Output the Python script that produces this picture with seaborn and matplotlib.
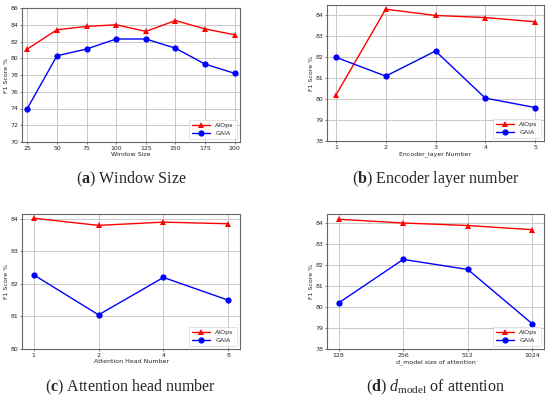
import numpy as np
import pandas as pd
import matplotlib
matplotlib.use("Agg")
import matplotlib.pyplot as plt
import seaborn as sns

# ---- data ----
window_size = ["25", "50", "75", "100", "125", "150", "175", "200"]
win_aiops = [81.1, 83.4, 83.8, 84.0, 83.2, 84.5, 83.5, 82.8]
win_gaia = [74.0, 80.3, 81.1, 82.3, 82.3, 81.2, 79.3, 78.2]

enc_layers = ["1", "2", "3", "4", "5"]
enc_aiops = [80.2, 84.3, 84.0, 83.9, 83.7]
enc_gaia = [82.0, 81.1, 82.3, 80.05, 79.6]

att_heads = ["1", "2", "4", "8"]
head_aiops = [84.02, 83.8, 83.9, 83.85]
head_gaia = [82.28, 81.05, 82.2, 81.5]

d_model = ["128", "256", "512", "1024"]
dm_aiops = [84.2, 84.02, 83.9, 83.7]
dm_gaia = [80.2, 82.28, 81.8, 79.2]

sns.set_style("ticks")
plt.rcParams["font.family"] = ["DejaVu Sans"]
# serif captions with a bold panel letter
plt.rcParams["mathtext.fontset"] = "custom"
plt.rcParams["mathtext.rm"] = "Liberation Serif"
plt.rcParams["mathtext.it"] = "Liberation Serif:italic"
plt.rcParams["mathtext.bf"] = "Liberation Serif:bold"

fig = plt.figure(figsize=(5.5, 3.99), dpi=100)

# axes positions in figure fractions (left, bottom, width, height)
W, H = 550, 399
def box(x0, y0, x1, y1):
    return [x0 / W, 1 - y1 / H, (x1 - x0) / W, (y1 - y0) / H]

panels = [
    (box(22, 8, 240, 142), window_size, win_aiops, win_gaia, "Window Size",
     (70, 86), np.arange(70, 87, 2), r"($\mathbf{a}$) Window Size", 179),
    (box(327, 5, 544, 141), enc_layers, enc_aiops, enc_gaia, "Encoder_layer Number",
     (78, 84.5), np.arange(78, 85, 1), r"($\mathbf{b}$) Encoder layer number", 179),
    (box(22, 214, 240, 349), att_heads, head_aiops, head_gaia, "Attention Head Number",
     (80, 84.15), np.arange(80, 85, 1), r"($\mathbf{c}$) Attention head number", 387),
    (box(327, 214, 544, 349), d_model, dm_aiops, dm_gaia, "d_model size of attention",
     (78, 84.45), np.arange(78, 85, 1), r"($\mathbf{d}$) $d_{\mathrm{model}}$ of attention", 387),
]

for pos, cats, aiops, gaia, xlabel, ylim, yticks, caption, cap_y in panels:
    ax = fig.add_axes(pos)
    df = pd.DataFrame({
        "x": list(range(len(cats))) * 2,
        "score": aiops + gaia,
        "method": ["AIOps"] * len(cats) + ["GAIA"] * len(cats),
    })
    sns.lineplot(data=df, x="x", y="score", hue="method", style="method",
                 palette={"AIOps": "red", "GAIA": "blue"},
                 markers={"AIOps": "^", "GAIA": "o"}, dashes=False,
                 markersize=4.5, markeredgewidth=0, linewidth=1, ax=ax)
    ax.set_xticks(range(len(cats)))
    ax.set_xticklabels(cats)
    ax.set_xlim(-0.18, len(cats) - 1 + 0.18)
    ax.set_ylim(*ylim)
    ax.set_yticks(yticks)
    ax.grid(True, color="#c8c8c8", linewidth=0.7)
    ax.set_axisbelow(True)
    ax.tick_params(labelsize=4.5, length=1.5, width=0.5, color="#444444", pad=1.2)
    ax.set_xlabel(xlabel, fontsize=4.5, labelpad=1.0)
    ax.set_ylabel("F1 Score %", fontsize=4.5, labelpad=1.0)
    for s in ax.spines.values():
        s.set_color("#666666")
        s.set_linewidth(0.8)
    leg = ax.legend(loc="lower right", fontsize=4.5, frameon=True, handlelength=3,
                    borderpad=0.5, labelspacing=0.35)
    leg.get_frame().set_linewidth(0.5)
    cx = pos[0] + pos[2] / 2
    fig.text(cx, 1 - cap_y / H, caption, ha="center", va="center",
             fontsize=11.5, family="Liberation Serif")

fig.savefig("out.png", dpi=100)
